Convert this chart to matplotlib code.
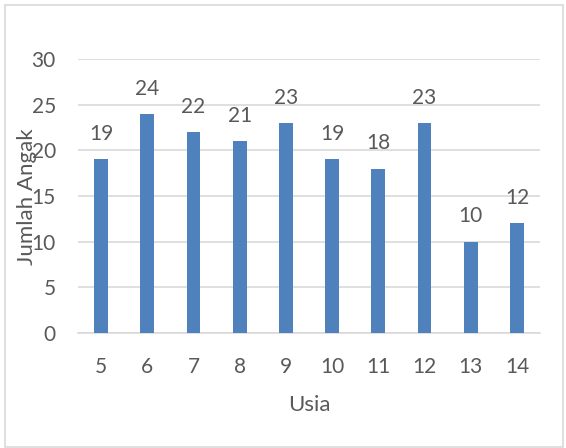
import matplotlib
matplotlib.use("Agg")
import matplotlib.pyplot as plt
from matplotlib.patches import Rectangle

categories = ["5", "6", "7", "8", "9", "10", "11", "12", "13", "14"]
values = [19, 24, 22, 21, 23, 19, 18, 23, 10, 12]
yticks = [0, 5, 10, 15, 20, 25, 30]

plt.rcParams['font.family'] = ['Lato', 'DejaVu Sans']
txt = '#595959'

fig = plt.figure(figsize=(5.66, 4.48), dpi=100)
ax = fig.add_axes([78/566, 1-333/448, (540-78)/566, (333-59)/448])
x = list(range(len(categories)))
bars = ax.bar(x, values, width=0.3, color='#4f81bd', zorder=3)
for xi, v in zip(x, values):
    ax.annotate(str(v), (xi, v), xytext=(0, 11), textcoords='offset points',
                ha='center', va='bottom', fontsize=15, color=txt)
ax.set_xlim(-0.5, len(categories)-0.5)
ax.set_ylim(0, 30)
ax.set_yticks(yticks)
ax.set_xticks(x)
ax.set_xticklabels(categories)
ax.yaxis.grid(True, color='#d9d9d9', linewidth=1.2, zorder=0)
for s in ['top', 'right', 'left']:
    ax.spines[s].set_visible(False)
ax.spines['bottom'].set_color('#d9d9d9')
ax.spines['bottom'].set_linewidth(1.2)
ax.tick_params(axis='both', length=0, labelsize=15, labelcolor=txt)
ax.tick_params(axis='y', pad=16)
ax.tick_params(axis='x', pad=17)
fig.text(27/566, 1-197/448, 'Jumlah Angak', rotation=90, ha='center', va='center', fontsize=16, color=txt)
fig.text(309/566, 1-405/448, 'Usia', ha='center', va='center', fontsize=16, color=txt)
fig.patches.append(Rectangle((5/566, 1/448), 558/566, 442/448, transform=fig.transFigure,
                             fill=False, edgecolor='#d9d9d9', linewidth=1.2))
fig.savefig('out.png', dpi=100)
